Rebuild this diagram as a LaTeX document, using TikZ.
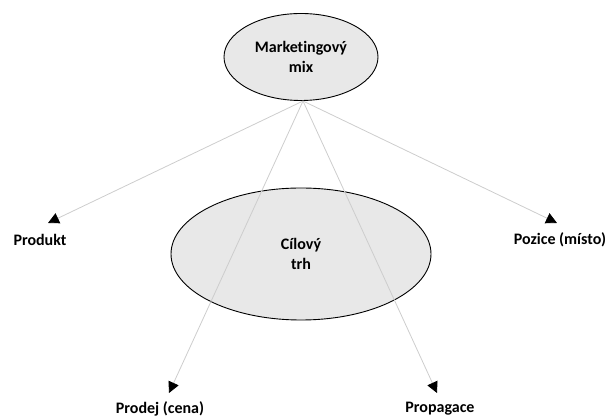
\documentclass[tikz,border=0pt]{standalone}
\usepackage{fontspec}
\setmainfont{Carlito}[Ligatures=NoCommon]
\usetikzlibrary{arrows.meta,shapes.geometric}
\definecolor{fillg}{RGB}{232,232,232}
\definecolor{lineg}{RGB}{205,205,205}
\tikzset{
  oval/.style={ellipse,draw=black,fill=fillg,line width=0.9pt,align=center,font=\bfseries\fontsize{16}{20}\selectfont,inner sep=0pt},
  lbl/.style={font=\bfseries\fontsize{16}{19}\selectfont,inner sep=0pt},
  conn/.style={draw=lineg,line width=0.8pt,-{Triangle[length=11pt,width=11pt,fill=black,color=black]}}
}
\begin{document}
\begin{tikzpicture}[x=1pt,y=-1pt]
\useasboundingbox (0,0) rectangle (614,419);
\node[oval,minimum width=154pt,minimum height=87pt] (mm) at (301,57) {Marketingový\\mix};
\node[oval,minimum width=260pt,minimum height=132pt] (ct) at (301,254) {Cílový\\trh};
\coordinate (src) at (303,101);
\coordinate (a1) at (48,223);
\coordinate (a2) at (557,223);
\coordinate (a3) at (169,393);
\coordinate (a4) at (437,393);
\node[lbl] (p1) at (40,240) {Produkt};
\node[lbl] (p2) at (560,240) {Pozice (místo)};
\node[lbl] (p3) at (160,409) {Prodej (cena)};
\node[lbl] (p4) at (440,409) {Propagace};
\draw[conn] (src) -- (a1);
\draw[conn] (src) -- (a2);
\draw[conn] (src) -- (a3);
\draw[conn] (src) -- (a4);
\end{tikzpicture}
\end{document}
